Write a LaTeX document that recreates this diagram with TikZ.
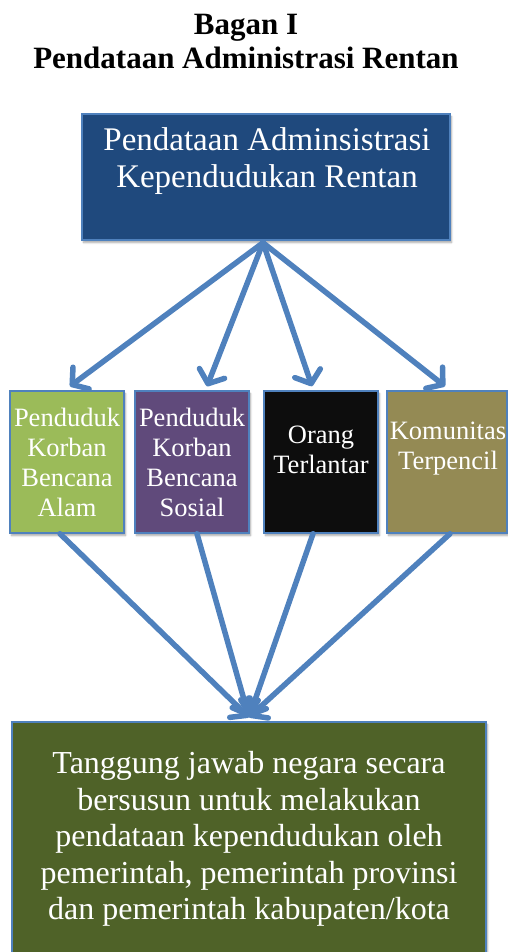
\documentclass[tikz,border=0pt]{standalone}
\usepackage{fontspec}
\setmainfont{Liberation Serif}
\usetikzlibrary{arrows.meta,shadows.blur}
\definecolor{topblue}{HTML}{1F497D}
\definecolor{edgeblue}{HTML}{4F81BD}
\definecolor{greenbox}{HTML}{9BBB59}
\definecolor{purplebox}{HTML}{604A7B}
\definecolor{blackbox}{HTML}{0D0D0D}
\definecolor{olivebox}{HTML}{948A54}
\definecolor{bottomgreen}{HTML}{4F6228}
\begin{document}
\begin{tikzpicture}[x=1pt,y=-1pt,
  box/.style={draw=edgeblue, line width=1.5pt, inner sep=0pt,
    blur shadow={shadow xshift=1.5pt, shadow yshift=-2.5pt, shadow blur steps=6, shadow opacity=35}},
  midbox/.style={box, minimum width=114pt, minimum height=142pt},
  boxtext/.style={text=white, align=center, inner sep=0pt, font=\fontsize{26.5}{30}\selectfont},
  link/.style={draw=edgeblue, line width=5.5pt, line cap=round, line join=round,
    -{Straight Barb[length=11pt,width=27pt,line cap=round,line join=round]}}
]
\useasboundingbox (0,0) rectangle (508,952);

\node[font=\bfseries\fontsize{31}{34}\selectfont, align=center, inner sep=0pt] (title) at (246,42)
  {Bagan I\\Pendataan Administrasi Rentan};

\node[box, fill=topblue, minimum width=368pt, minimum height=126pt] (top) at (266,177) {};
\node[text=white, align=center, inner sep=0pt, font=\fontsize{33}{37}\selectfont] (toptext) at (267,161)
  {Pendataan Adminsistrasi\\Kependudukan Rentan};

\node[midbox, fill=greenbox]  (b1) at (67,462) {};
\node[midbox, fill=purplebox] (b2) at (192,462) {};
\node[midbox, fill=blackbox]  (b3) at (321,462) {};
\node[box, fill=olivebox, minimum width=120pt, minimum height=142pt] (b4) at (447,462) {};

\node[boxtext] (t1) at (67,462) {Penduduk\\Korban\\Bencana\\Alam};
\node[boxtext] (t2) at (192,462) {Penduduk\\Korban\\Bencana\\Sosial};
\node[boxtext] (t3) at (321,450) {Orang\\Terlantar};
\node[boxtext] (t4) at (448,449) {Komunitas\\Terpencil};

\node[box, fill=bottomgreen, minimum width=474pt, minimum height=232pt] (bot) at (249,838) {};
\node[text=white, align=center, inner sep=0pt, font=\fontsize{32}{36.5}\selectfont] (bottext) at (249,839)
  {Tanggung jawab negara secara\\bersusun untuk melakukan\\pendataan kependudukan oleh\\pemerintah, pemerintah provinsi\\dan pemerintah kabupaten/kota};

\coordinate (src) at ([xshift=-3pt,yshift=-2pt]top.south);
\draw[link] (src) -- ([xshift=3pt,yshift=4pt]b1.north);
\draw[link] (src) -- ([xshift=15pt,yshift=4pt]b2.north);
\draw[link] (src) -- ([xshift=-9pt,yshift=4pt]b3.north);
\draw[link] (src) -- ([xshift=-2pt,yshift=4pt]b4.north);

\draw[link] ([xshift=-7pt]b1.south) -- ([yshift=4pt]bot.north);
\draw[link] ([xshift=5pt]b2.south) -- ([yshift=4pt]bot.north);
\draw[link] ([xshift=-8pt]b3.south) -- ([yshift=4pt]bot.north);
\draw[link] ([xshift=3pt]b4.south) -- ([yshift=4pt]bot.north);
\end{tikzpicture}
\end{document}
